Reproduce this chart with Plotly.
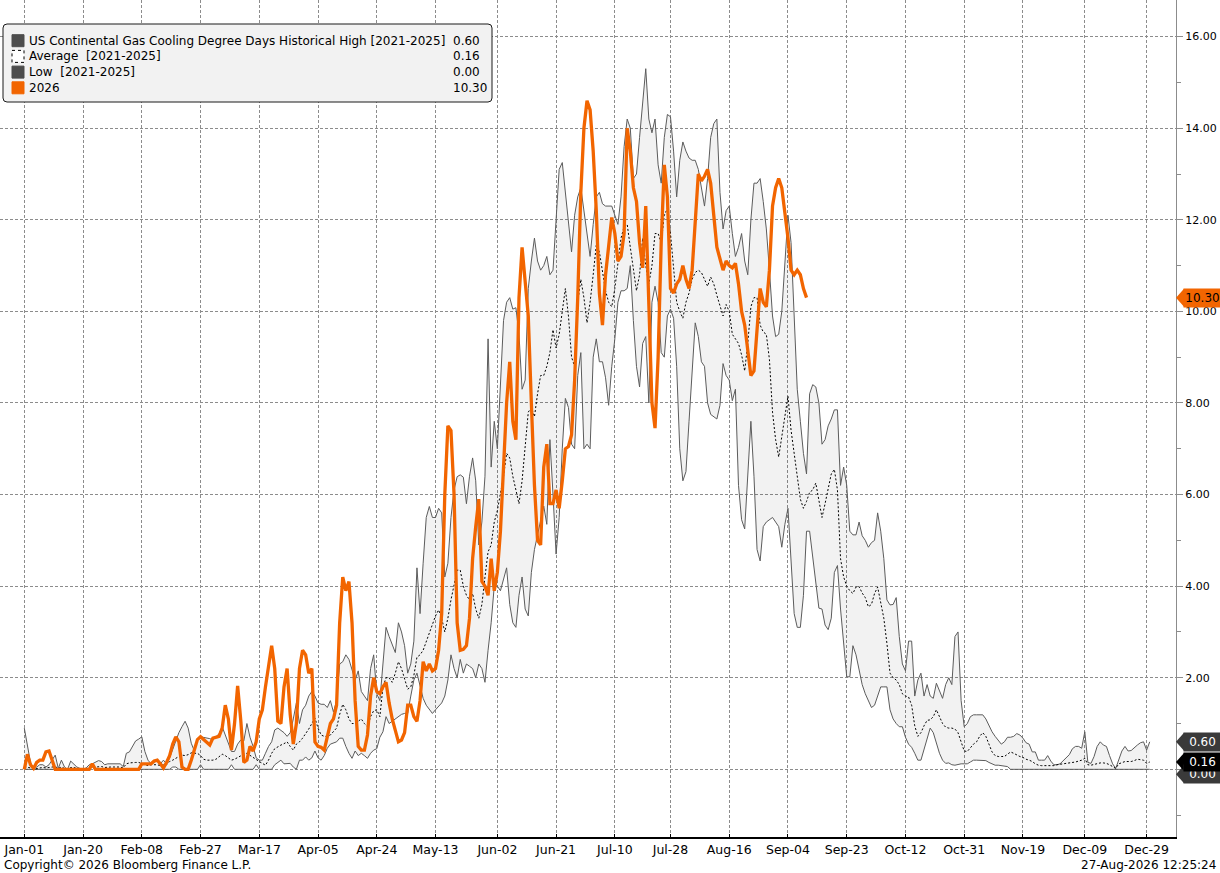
import pandas as pd
import plotly.graph_objects as go

# US Continental Gas CDD - seasonal comparison, daily values on a leap-year calendar
hist_high = [
    0.9, 0.5, 0.15, 0.0, 0.05, 0.1, 0.1, 0.05, 0.1, 0.2,
    0.31, 0.02, 0.2, 0.05, 0.0, 0.18, 0.12, 0.05, 0.02, 0.0,
    0.03, 0.1, 0.12, 0.15, 0.19, 0.17, 0.1, 0.12, 0.12, 0.12,
    0.12, 0.12, 0.06, 0.35, 0.38, 0.5, 0.62, 0.66, 0.71, 0.39,
    0.2, 0.12, 0.15, 0.2, 0.12, 0.2, 0.12, 0.25, 0.45, 0.65,
    0.8, 0.93, 1.05, 0.9, 0.57, 0.4, 0.65, 0.71, 0.7, 0.69,
    0.67, 0.64, 0.7, 0.78, 0.93, 0.75, 0.55, 0.39, 0.39, 0.55,
    0.64, 0.62, 1.0, 0.7, 0.5, 0.25, 0.2, 0.2, 0.35, 0.5,
    0.6, 0.86, 0.9, 0.85, 0.8, 0.72, 0.8, 1.1, 1.45, 1.0,
    1.3, 1.4, 1.6, 1.7, 1.6, 1.45, 1.42, 1.42, 1.35, 1.5,
    1.25, 1.5, 2.3, 2.35, 2.5, 2.4, 2.2, 1.95, 2.15, 1.7,
    1.6, 1.5, 2.2, 2.5, 1.65, 1.5, 2.3, 3.1, 2.9, 2.7,
    2.55, 3.2, 3.0, 2.7, 2.1, 2.3, 2.8, 4.4, 3.4, 4.5,
    5.5, 5.74, 5.5, 5.5, 5.7, 5.6, 4.2, 4.5, 5.5, 6.1,
    6.39, 6.43, 6.38, 5.8, 6.4, 6.8, 6.3, 4.9, 5.4, 6.4,
    9.4, 6.6, 7.6, 7.0, 8.3, 9.8, 10.2, 10.3, 10.05, 10.08,
    9.5, 8.3, 8.5, 10.5, 11.1, 11.6, 11.1, 10.9, 11.0, 11.2,
    10.8, 10.9, 12.0, 13.1, 13.25, 12.6, 11.9, 11.3, 12.1, 12.5,
    12.7, 12.2, 11.6, 11.2, 11.9, 12.5, 12.6, 12.35, 12.3, 12.3,
    12.3, 12.1, 11.9, 12.5, 13.6, 14.2, 14.0, 12.9, 13.0, 13.8,
    14.6, 15.3, 14.2, 13.9, 14.2, 13.2, 12.8, 13.8, 14.3, 14.25,
    13.5, 12.5, 13.3, 13.7, 13.5, 13.35, 13.3, 13.3, 13.1, 12.7,
    12.3, 12.9, 13.8, 14.1, 14.2, 12.6, 11.8, 12.2, 12.3, 11.7,
    11.2, 11.4, 11.7, 11.1, 10.8, 12.0, 12.8, 12.8, 12.9, 12.4,
    11.8, 10.9, 9.9, 9.45, 9.5, 10.0, 11.0, 12.1, 11.5, 9.8,
    8.3, 7.6, 6.9, 6.45, 8.2, 8.4, 8.35, 8.0, 7.1, 7.2,
    7.5, 7.65, 7.85, 7.85, 6.2, 6.6, 6.2, 5.2, 5.12, 5.12,
    5.4, 5.1, 5.0, 4.85, 4.95, 5.0, 5.6, 5.2, 4.6, 3.7,
    3.59, 3.6, 3.75, 2.9, 2.3, 2.15, 2.8, 2.8, 1.6, 1.95,
    2.1, 1.6, 1.85, 1.6, 1.55, 1.88, 1.7, 1.55, 1.85, 2.0,
    1.85, 2.9, 3.0, 1.5, 0.93, 1.0, 1.15, 1.19, 1.19, 1.19,
    1.19, 1.1, 0.95, 0.82, 0.72, 0.64, 0.55, 0.6, 0.7, 0.7,
    0.72, 0.78, 0.75, 0.68, 0.58, 0.55, 0.38, 0.38, 0.2, 0.2,
    0.2, 0.3, 0.18, 0.1, 0.1, 0.12, 0.18, 0.24, 0.32, 0.45,
    0.5, 0.5, 0.46, 0.82, 0.15, 0.13, 0.28, 0.5, 0.6, 0.53,
    0.5, 0.3, 0.12, 0.02, 0.2, 0.4, 0.5, 0.4, 0.41, 0.48,
    0.53, 0.58, 0.6, 0.42, 0.6,
]

hist_avg = [
    0.06, 0.05, 0.03, 0.0, 0.02, 0.03, 0.04, 0.03, 0.04, 0.05,
    0.06, 0.02, 0.05, 0.02, 0.0, 0.04, 0.04, 0.02, 0.01, 0.0,
    0.01, 0.03, 0.06, 0.05, 0.06, 0.06, 0.04, 0.05, 0.05, 0.05,
    0.05, 0.05, 0.03, 0.12, 0.14, 0.15, 0.15, 0.15, 0.13, 0.1,
    0.08, 0.1, 0.1, 0.1, 0.08, 0.1, 0.1, 0.17, 0.2, 0.25,
    0.28, 0.31, 0.3, 0.32, 0.36, 0.35, 0.35, 0.3, 0.22, 0.2,
    0.2, 0.2, 0.22, 0.28, 0.33, 0.3, 0.25, 0.2, 0.22, 0.26,
    0.3, 0.33, 0.35, 0.3, 0.27, 0.22, 0.17, 0.13, 0.09, 0.2,
    0.35, 0.45, 0.5, 0.53, 0.56, 0.6, 0.5, 0.42, 0.55, 0.6,
    0.68, 0.77, 0.88, 1.0, 1.12, 0.9, 0.75, 0.72, 0.72, 0.75,
    0.82, 0.9, 1.2, 1.42, 1.3, 1.1, 1.0, 1.0, 1.05, 1.1,
    1.0, 0.93, 1.15, 1.28, 1.3, 1.15, 1.8, 2.0, 2.0, 1.9,
    2.1, 2.35, 2.2, 2.0, 1.75, 1.8, 2.05, 2.45, 2.5, 2.6,
    2.8, 2.95, 3.15, 3.35, 3.48, 3.3, 3.0, 3.3, 3.7, 4.0,
    4.35, 4.35, 4.0, 3.8, 3.7, 3.84, 3.5, 3.3, 3.6, 4.2,
    4.75, 4.9, 5.4, 5.65, 6.0, 6.4, 6.9, 6.8, 6.4, 6.1,
    5.8, 6.3, 7.1, 7.8, 7.9, 7.7, 8.2, 8.6, 8.6, 8.8,
    9.1, 9.6, 9.2, 9.5, 10.0, 10.5, 9.9, 9.0, 8.8, 10.2,
    10.7, 10.3, 9.75, 10.2, 10.8, 11.45, 11.3, 10.85, 10.45, 10.2,
    10.1, 10.5, 11.0, 11.6, 11.85, 11.9, 11.4, 10.9, 10.45, 10.8,
    11.6, 11.0, 10.6, 11.0, 11.7, 11.7, 11.5, 12.1, 12.25, 11.7,
    10.9, 10.2, 10.0, 9.85, 10.2, 10.4, 10.7, 10.85, 10.9, 10.85,
    10.7, 10.55, 10.75, 10.6, 10.35, 10.15, 9.9, 10.15, 10.0, 9.5,
    9.4, 9.3, 9.05, 8.7, 9.3, 10.1, 10.3, 10.3, 9.7, 9.55,
    9.5, 8.95, 7.8, 7.2, 6.82, 7.3, 7.7, 8.15, 7.4, 6.9,
    6.3, 5.9, 5.7, 5.85, 6.05, 6.1, 6.25, 5.9, 5.5, 5.8,
    6.1, 6.45, 6.55, 6.1, 4.6, 4.2, 4.0, 3.9, 3.84, 3.98,
    3.99, 3.85, 3.75, 3.55, 3.6, 3.84, 3.98, 3.6, 3.3, 2.75,
    2.1, 2.0, 1.95, 1.85, 1.65, 1.6, 1.58, 1.4, 0.95, 0.72,
    0.8, 0.95, 1.07, 1.08, 1.15, 1.3, 1.15, 1.0, 0.92, 0.9,
    0.9, 0.88, 0.8, 0.6, 0.4, 0.39, 0.48, 0.55, 0.6, 0.72,
    0.8, 0.72, 0.55, 0.38, 0.3, 0.28, 0.28, 0.28, 0.33, 0.38,
    0.35, 0.31, 0.28, 0.26, 0.22, 0.2, 0.17, 0.12, 0.09, 0.08,
    0.08, 0.08, 0.08, 0.08, 0.1, 0.11, 0.12, 0.13, 0.13, 0.14,
    0.16, 0.18, 0.2, 0.24, 0.1, 0.09, 0.11, 0.13, 0.14, 0.14,
    0.13, 0.1, 0.05, 0.02, 0.12, 0.15, 0.17, 0.17, 0.17, 0.19,
    0.22, 0.21, 0.2, 0.13, 0.16,
]

hist_low = [
    0, 0, 0, 0, 0, 0, 0, 0, 0, 0,
    0, 0, 0, 0, 0, 0, 0, 0, 0, 0,
    0, 0, 0.05, 0, 0, 0, 0, 0, 0, 0,
    0, 0, 0, 0, 0, 0, 0, 0, 0, 0,
    0, 0, 0, 0, 0, 0, 0, 0, 0.05, 0.05,
    0, 0, 0, 0, 0, 0, 0, 0.1, 0, 0,
    0, 0, 0, 0, 0, 0, 0, 0.1, 0, 0,
    0, 0, 0, 0, 0, 0.1, 0, 0, 0, 0,
    0, 0.1, 0.15, 0.2, 0.12, 0.13, 0.13, 0.05, 0.0, 0.2,
    0.2, 0.27, 0.2, 0.25, 0.4, 0.25, 0.2, 0.3, 0.46, 0.55,
    0.57, 0.6, 0.68, 0.68, 0.5, 0.35, 0.24, 0.4, 0.3, 0.35,
    0.3, 0.24, 0.35, 0.42, 0.45, 0.7, 0.82, 1.15, 1.0, 1.05,
    1.1, 1.15, 1.2, 1.22, 1.22, 1.6, 1.95, 2.1, 1.8, 1.55,
    1.4, 1.3, 1.22, 1.3, 1.37, 1.45, 1.6, 1.95, 2.5, 2.2,
    2.0, 2.4, 2.1, 2.3, 2.25, 2.2, 2.0, 2.3, 2.2, 1.9,
    2.6, 3.2, 4.0, 4.0, 3.9, 4.15, 4.4, 3.6, 3.2, 3.1,
    3.8, 4.2, 3.5, 3.35, 4.3, 4.8, 5.1, 5.4, 5.75, 5.35,
    7.2, 6.0, 4.7, 5.5, 7.0, 8.1, 7.9, 7.1, 7.0, 8.6,
    9.1, 7.0, 7.1, 7.0, 9.0, 9.4, 8.9, 8.9, 8.55, 7.95,
    8.8, 9.4, 10.2, 10.45, 10.45, 10.5, 11.0, 9.8, 8.8, 8.35,
    9.3, 9.45, 8.0, 10.2, 10.55, 10.2, 9.1, 9.0, 9.9, 10.05,
    9.85, 8.8, 7.0, 6.3, 6.5, 7.6, 8.6, 9.75, 9.45, 8.9,
    8.8, 8.0, 7.75, 7.7, 7.65, 7.95, 8.86, 8.6, 8.5, 8.05,
    8.3, 6.2, 5.45, 5.25, 6.5, 7.6, 6.4, 4.8, 4.55, 5.3,
    5.4, 5.45, 5.5, 5.4, 5.3, 4.85, 5.35, 5.7, 4.5, 3.4,
    3.1, 3.1, 3.8, 5.2, 5.2, 4.6, 4.0, 3.52, 3.5, 3.15,
    3.05, 3.3, 4.3, 4.45, 3.5, 2.75, 2.02, 2.02, 2.7, 2.5,
    2.2, 1.85, 1.65, 1.5, 1.35, 1.4, 1.6, 1.8, 1.8, 1.8,
    1.3, 1.1, 1.0, 0.93, 0.93, 0.7, 0.55, 0.48, 0.35, 0.2,
    0.2, 0.45, 0.7, 0.9, 0.8, 0.55, 0.35, 0.2, 0.13, 0.14,
    0.1, 0.09, 0.11, 0.12, 0.12, 0.12, 0.16, 0.2, 0.2, 0.2,
    0.2, 0.19, 0.15, 0.12, 0.09, 0.09, 0.08, 0.06, 0.06, 0.0,
    0, 0, 0, 0, 0, 0, 0, 0, 0, 0,
    0, 0, 0, 0, 0, 0, 0, 0, 0, 0,
    0, 0, 0, 0, 0, 0, 0, 0, 0, 0,
    0, 0, 0, 0, 0, 0, 0, 0, 0, 0,
    0, 0, 0, 0, 0,
]

cdd_2026 = [
    0.0, 0.33, 0.1, 0.02, 0.15, 0.2, 0.2, 0.38, 0.4, 0.2,
    0.0, 0, 0, 0, 0, 0, 0, 0, 0, 0,
    0, 0, 0.12, 0, 0, 0, 0, 0, 0, 0,
    0, 0, 0, 0, 0, 0, 0, 0, 0.12, 0.12,
    0.12, 0.12, 0.18, 0.2, 0.12, 0.03, 0.15, 0.3, 0.55, 0.71,
    0.6, 0.05, 0, 0, 0.2, 0.42, 0.65, 0.71, 0.65, 0.58,
    0.53, 0.68, 0.7, 0.72, 0.9, 1.4, 1.1, 0.42, 1.0, 1.82,
    1.08, 0.15, 0.2, 0.5, 0.4, 0.6, 1.1, 1.3, 1.8, 2.3,
    2.7, 2.2, 1.05, 1.0, 1.8, 2.2, 1.2, 0.55, 1.0, 2.2,
    2.6, 2.5, 2.1, 2.2, 0.6, 0.5, 0.48, 0.42, 0.75, 1.0,
    1.1, 1.4, 3.2, 4.2, 3.9, 4.1, 3.2, 1.5, 0.5, 0.42,
    0.42, 0.75, 1.6, 2.0, 1.7, 1.65, 1.8, 1.9, 1.45, 1.1,
    0.85, 0.6, 0.64, 0.8, 1.4, 1.4, 1.15, 1.05, 1.5, 2.35,
    2.15, 2.3, 2.15, 2.2, 2.6, 3.4, 6.0, 7.5, 7.4, 6.0,
    3.2, 2.6, 2.62, 2.7, 3.3, 4.6, 5.3, 5.9, 4.1, 4.0,
    3.8, 4.6, 3.9, 4.3, 5.2, 6.5, 8.0, 8.9, 7.6, 7.2,
    10.3, 11.4, 10.6, 9.9, 8.0, 6.2, 5.0, 4.9, 6.6, 7.1,
    5.8, 5.8, 6.1, 5.7, 6.3, 7.0, 7.05, 7.3, 8.5, 10.3,
    12.6, 14.0, 14.6, 14.4, 13.5, 12.2, 10.4, 9.7, 10.8, 11.5,
    12.05, 11.7, 11.1, 11.2, 11.7, 14.0, 13.5, 12.7, 12.4, 11.5,
    10.95, 12.3, 10.0, 8.0, 7.45, 9.0, 11.5, 13.2, 12.5, 10.5,
    10.4, 10.6, 10.7, 11.0, 10.7, 10.5, 10.9, 12.0, 13.0, 12.85,
    12.95, 13.1, 12.8, 12.1, 11.4, 11.15, 10.9, 11.1, 11.0, 10.95,
    11.05, 10.6, 10.0, 9.7, 9.1, 8.6, 8.7, 9.6, 10.5, 10.2,
    10.1, 10.9, 12.3, 12.7, 12.9, 12.7, 12.2, 11.6, 10.9, 10.8,
    10.9, 10.8, 10.5, 10.3,
]

tick_dates = [
    "2024-01-01", "2024-01-20", "2024-02-08", "2024-02-27", "2024-03-17",
    "2024-04-05", "2024-04-24", "2024-05-13", "2024-06-02", "2024-06-21",
    "2024-07-10", "2024-07-28", "2024-08-16", "2024-09-04", "2024-09-23",
    "2024-10-12", "2024-10-31", "2024-11-19", "2024-12-09", "2024-12-29",
]

band_dates = pd.date_range("2024-01-01", periods=len(hist_high), freq="D")
dates_2026 = pd.date_range("2024-01-01", periods=len(cdd_2026), freq="D")

FONT = "DejaVu Sans"
ORANGE = "#f26500"
LINE_GREY = "#5c5c5c"
GRID = "#8c8c8c"

Y_MIN, Y_MAX = -1.478, 16.8
PLOT_W, PLOT_H = 1176, 837
day0 = pd.Timestamp("2024-01-01")
x_start = day0 + pd.Timedelta(days=-7.86)
x_end = day0 + pd.Timedelta(days=372.5)


def px(x):
    return x / PLOT_W


def py(y):
    return 1 - y / PLOT_H


def vy(v):
    return (v - Y_MIN) / (Y_MAX - Y_MIN)


fig = go.Figure()
fig.add_trace(go.Scatter(x=band_dates, y=hist_low, mode="lines",
                         line=dict(color=LINE_GREY, width=1), hoverinfo="skip"))
fig.add_trace(go.Scatter(x=band_dates, y=hist_high, mode="lines",
                         line=dict(color=LINE_GREY, width=1),
                         fill="tonexty", fillcolor="rgba(0,0,0,0.05)"))
fig.add_trace(go.Scatter(x=band_dates, y=hist_avg, mode="lines",
                         line=dict(color="black", width=1, dash="2px,2px")))
fig.add_trace(go.Scatter(x=dates_2026, y=cdd_2026, mode="lines",
                         line=dict(color=ORANGE, width=3.3)))

shapes = []
annots = []

# legend box (drawn by hand so the values can sit in their own column)
shapes.append(dict(
    type="path", xref="paper", yref="paper", xsizemode="pixel", ysizemode="pixel",
    xanchor=0, yanchor=1, layer="above",
    path="M 7,-24 L 488,-24 Q 492,-24 492,-28 L 492,-98 Q 492,-102 488,-102 "
         "L 7,-102 Q 3,-102 3,-98 L 3,-28 Q 3,-24 7,-24 Z",
    fillcolor="#f2f2f2", line=dict(color="#1a1a1a", width=1)))

legend_rows = [
    ("US Continental Gas Cooling Degree Days Historical High [2021-2025]", hist_high[-1], "#4d4d4d", "solid"),
    ("Average\u00a0 [2021-2025]", hist_avg[-1], "white", "dot"),
    ("Low\u00a0 [2021-2025]", hist_low[-1], "#4d4d4d", "solid"),
    ("2026", cdd_2026[-1], ORANGE, "solid"),
]
row_y = [40.7, 56.4, 72.1, 87.8]
for (label, val, col, dash), ry in zip(legend_rows, row_y):
    shapes.append(dict(
        type="rect", xref="paper", yref="paper", xsizemode="pixel", ysizemode="pixel",
        xanchor=0, yanchor=1, x0=12, x1=24, y0=-(ry - 6), y1=-(ry + 6), layer="above",
        fillcolor=col,
        line=dict(color="black" if dash == "dot" else col, width=1, dash=dash)))
    annots.append(dict(xref="paper", yref="paper", x=px(27), y=py(ry), text=label,
                       xanchor="left", yanchor="middle", showarrow=False,
                       font=dict(size=12, color="black")))
    annots.append(dict(xref="paper", yref="paper", x=px(451), y=py(ry), text=f"{val:.2f}",
                       xanchor="left", yanchor="middle", showarrow=False,
                       font=dict(size=12, color="black")))

# last-value tags on the right axis: tip as a shape, body as a boxed annotation
tags = [
    (hist_low[-1], "#3a3a3a", "white", -5),
    (hist_high[-1], "#3a3a3a", "white", 0),
    (hist_avg[-1], "black", "white", 0),
    (cdd_2026[-1], ORANGE, "black", 0),
]
for val, bg, fg, off in tags:
    shapes.append(dict(
        type="path", xref="paper", yref="paper", xsizemode="pixel", ysizemode="pixel",
        xanchor=1, yanchor=vy(val), layer="above",
        path=f"M 0,{off} L 8,{off + 9} L 8,{off - 9} Z",
        fillcolor=bg, line=dict(color=bg, width=0)))
    annots.append(dict(xref="paper", yref="paper", x=1, y=vy(val), xshift=7, yshift=off,
                       text=f"{val:.2f}", xanchor="left", yanchor="middle",
                       showarrow=False, width=35, height=16, borderpad=1,
                       bgcolor=bg, align="center",
                       font=dict(size=12, color=fg)))

annots.append(dict(xref="paper", yref="paper", x=px(2), y=py(865),
                   text="Copyright\u00a9 2026 Bloomberg Finance L.P.",
                   xanchor="left", yanchor="middle", showarrow=False,
                   font=dict(size=12, color="black")))
annots.append(dict(xref="paper", yref="paper", x=px(1218), y=py(865),
                   text="27-Aug-2026 12:25:24",
                   xanchor="right", yanchor="middle", showarrow=False,
                   font=dict(size=12, color="black")))

fig.update_xaxes(type="date", range=[x_start, x_end], tickmode="array",
                 tickvals=tick_dates, tickformat="%b-%d",
                 showgrid=True, gridcolor=GRID, gridwidth=1, griddash="3px,2px",
                 showline=True, linecolor="black", linewidth=1.5,
                 ticks="inside", ticklen=3, tickcolor="black",
                 tickfont=dict(size=12.5, color="black"), zeroline=False)
fig.update_yaxes(side="right", range=[Y_MIN, Y_MAX], tick0=0, dtick=2, tickformat=".2f",
                 showgrid=True, gridcolor=GRID, gridwidth=1, griddash="3px,2px",
                 showline=True, linecolor=GRID, linewidth=1,
                 ticks="outside", ticklen=6, tickcolor=GRID,
                 tickfont=dict(size=11, color="black"), zeroline=False,
                 minor=dict(dtick=1, ticks="outside", ticklen=4, tickcolor=GRID, showgrid=False))

fig.update_layout(
    width=1220, height=873,
    margin=dict(l=0, r=44, t=0, b=36),
    paper_bgcolor="white", plot_bgcolor="white",
    showlegend=False, hovermode=False,
    font=dict(family=FONT, color="black"),
    shapes=shapes, annotations=annots,
)

fig.write_html("out.html", config={"displayModeBar": False},
               post_script="document.body.style.margin='0';")
